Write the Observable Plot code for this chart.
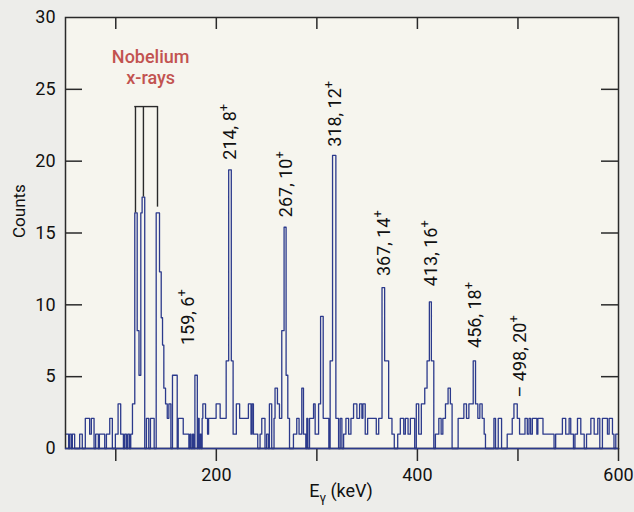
<!DOCTYPE html>
<html><head><meta charset="utf-8">
<script src="https://cdn.jsdelivr.net/npm/d3@7"></script>
<script src="https://cdn.jsdelivr.net/npm/@observablehq/plot@0.6"></script>
<style>
html,body{margin:0;padding:0;background:#ededea;}
#chart svg{display:block;}
</style></head><body><div id="chart"></div>
<script>
// Histogram: start energy of each step (keV) and the counts level from that energy on
const binStart = [50.0,53.1,54.1,55.8,56.8,59.1,64.1,66.7,69.7,74.0,75.7,78.4,80.0,82.7,83.7,89.0,90.7,94.0,96.6,99.6,
  102.3,104.9,107.6,108.9,110.6,111.9,113.6,114.9,116.6,118.9,121.3,123.1,124.9,126.2,128.8,130.5,132.8,134.5,138.2,140.2,
  143.5,145.2,146.5,147.8,149.5,151.2,152.8,154.8,156.4,161.1,162.1,167.1,172.7,173.9,174.9,176.4,177.4,178.7,181.1,181.9,
  182.9,183.9,184.9,185.9,186.6,189.3,191.3,192.3,199.8,203.8,209.8,212.3,214.9,216.7,219.9,223.2,231.9,234.5,235.5,236.9,
  241.2,243.5,245.2,248.4,250.0,251.8,252.8,255.1,257.4,258.4,260.8,262.8,265.1,267.4,269.4,271.1,272.8,276.7,280.0,282.3,
  285.0,286.7,289.0,290.0,291.0,292.7,296.7,298.3,301.7,303.7,306.3,311.9,313.2,315.6,318.9,321.6,323.2,324.9,326.6,328.9,
  331.6,333.9,336.5,339.8,342.5,344.8,345.8,348.1,350.5,359.1,361.5,364.8,367.4,371.4,374.7,377.0,380.4,383.0,386.4,388.0,
  390.7,393.0,397.3,398.9,401.3,403.9,407.3,409.6,411.9,413.9,416.3,417.9,421.3,423.6,425.3,427.9,430.5,432.8,434.5,440.5,
  446.2,448.8,451.2,455.5,457.8,460.1,462.1,464.4,466.4,467.7,476.1,477.7,480.4,483.7,489.3,494.3,496.0,499.3,501.6,507.0,
  509.3,511.0,512.6,514.3,518.8,519.8,521.6,524.9,535.9,537.5,544.2,547.5,550.9,552.5,555.2,556.7,559.2,562.5,565.9,568.2,
  572.5,575.8,579.4,581.4,584.0,589.0,590.7,594.0,595.5,597.3];
const binCount = [1,0,1,0,1,0,1,0,2.1,1,2.1,0,1,0,1,0,1,2.1,0,1,
  3.1,1,0,1,0,1,0,1,3.1,16.4,8.2,5.1,16.4,17.5,0,2.1,0,2.1,0,16.4,
  12.3,9.1,7.2,4.2,3.1,2.1,3.1,0,5.1,0,2.1,1,0,1,0,1,0,5.1,0,2.1,
  0,1,0,2.1,3.1,2.1,1,2.1,3.1,2.1,6.1,19.4,6.1,1,3.1,2.1,3.1,1,3.1,1,
  0,1,2.1,0,1,0,3.1,0,2.1,4.2,3.1,2.1,8.2,15.4,5.1,2.1,0,1,2.1,1,
  4.2,1,0,2.1,0,2.1,3.1,1,3.1,9.2,2.1,0,6.1,20.4,2.1,0,2.1,0,1,2.1,
  1,2.1,3.1,2.1,3.1,2.1,3.1,1,2.1,1,2.1,11.2,6.1,2.1,1,0,1,2.1,1,2.1,
  1,2.1,0,3.1,1,3.1,4.2,6.1,10.2,6.1,0,1,2.1,1,2.1,3.1,4.2,3.1,0,2.1,
  3.1,2.1,3.1,6.1,3.1,2.1,3.1,2.1,1,0,2.1,0,2.1,0,1,2.1,3.1,2.1,1,2.1,
  1,2.1,1,2.1,1,2.1,2.1,1,0,1,2.1,1,2.1,1,0,1,2.1,1,0,1,
  2.1,1,2.1,0,2.1,1,2.1,1,0,1];
const xMaxKeV = 600;

// Peak annotations
const peakText = ["159, 6+","214, 8+","267, 10+","318, 12+","367, 14+","413, 16+","456, 18+","\u2013 498, 20+"];
const peakTextX = [171.7, 213.4, 269.8, 318.6, 366.7, 413.3, 457.5, 502];
const peakTextY = [7.2, 20.1, 16.1, 21.0, 12.0, 11.3, 7.0, 3.55];

// Nobelium x-ray bracket
const noteLines = ["Nobelium", "x-rays"];
const noteX = 134.7;
const noteY = [27.2, 25.8];
const bracketX = [119.6, 127.5, 141.5];
const bracketBottom = [16.4, 17.5, 16.8];
const bracketTop = 23.8;

// Axes
const xTicks = [100, 200, 300, 400, 500, 600];
const xLabelled = [200, 400, 600];
const xTopTicks = [100, 200, 300, 400, 500];
const yTicks = [0, 5, 10, 15, 20, 25, 30];
const yInnerTicks = [5, 10, 15, 20, 25];
const yTitle = "Counts";
const xTitle = "E\u03b3 (keV)";

const hist = binStart.map((e, i) => ({e, c: binCount[i]}));
hist.push({e: xMaxKeV, c: binCount[binCount.length - 1]});
const peaks = peakText.map((t, i) => ({t, x: peakTextX[i], y: peakTextY[i]}));
const notes = noteLines.map((t, i) => ({t, y: noteY[i]}));
const brackets = bracketX.map((x, i) => ({x, y2: bracketBottom[i]}));

const W = 634, H = 512, mL = 65, mR = 16, mT = 17, mB = 64;
const plotW = W - mL - mR, plotH = H - mT - mB;
const ink = "#2a2a2a", navy = "#2c3a8c";

const chart = Plot.plot({
  width: W, height: H,
  marginLeft: mL, marginRight: mR, marginTop: mT, marginBottom: mB,
  style: {background: "#ededea", fontFamily: "Roboto, sans-serif", fontSize: "18px", color: "#111", overflow: "visible"},
  x: {domain: [50, xMaxKeV]},
  y: {domain: [0, 30]},
  marks: [
    Plot.frame({fill: "#f6f5ee", stroke: null}),
    Plot.line(hist, {x: "e", y: "c", curve: "step-after", stroke: navy, strokeWidth: 1.3}),
    Plot.tickY(yInnerTicks, {y: d => d, insetRight: plotW - 17, stroke: ink, strokeWidth: 1.5}),
    Plot.tickY(yInnerTicks, {y: d => d, insetLeft: plotW - 17, stroke: ink, strokeWidth: 1.5}),
    Plot.tickX(xTopTicks, {x: d => d, insetBottom: plotH - 12, stroke: ink, strokeWidth: 1.5}),
    Plot.axisX({ticks: xTicks, tickSize: 13, tickPadding: 7, strokeWidth: 1.5, stroke: ink,
      tickFormat: d => xLabelled.includes(d) ? String(d) : "", label: null, fontSize: 18}),
    Plot.axisY({ticks: yTicks, tickSize: 0, tickPadding: 10, label: null, fontSize: 18}),
    Plot.frame({stroke: ink, strokeWidth: 1.5}),
    Plot.ruleY([0], {stroke: navy, strokeWidth: 1.6}),
    Plot.ruleX(brackets, {x: "x", y1: bracketTop, y2: "y2", stroke: ink, strokeWidth: 1.4}),
    Plot.ruleY([bracketTop], {x1: bracketX[0], x2: bracketX[2], stroke: ink, strokeWidth: 1.4, strokeLinecap: "square"}),
    Plot.text(notes, {x: noteX, y: "y", text: "t", fill: "#c25350", fontSize: 18, fontWeight: 500}),
    Plot.text(peaks, {x: "x", y: "y", text: "t", rotate: -90, textAnchor: "start", fontSize: 18, fill: "#111"}),
    Plot.text([yTitle], {frameAnchor: "left", dx: -46, dy: 5, rotate: -90, fontSize: 17, fill: "#111"}),
    Plot.text([xTitle], {frameAnchor: "bottom", dx: -1, dy: 48, fontSize: 18, fill: "#111"})
  ]
});
document.getElementById("chart").append(chart);

// superscript "+" and subscript gamma as real text
const NS = "http://www.w3.org/2000/svg";
chart.querySelectorAll("text").forEach(t => {
  const s = t.textContent;
  if (t.children.length === 0 && /\d\+$/.test(s)) {
    t.textContent = s.slice(0, -1);
    const sp = document.createElementNS(NS, "tspan");
    sp.setAttribute("dy", "-8");
    sp.setAttribute("font-size", "13");
    sp.textContent = "+";
    t.append(sp);
  } else if (s === xTitle) {
    t.textContent = "E";
    const g = document.createElementNS(NS, "tspan");
    g.setAttribute("dy", "5"); g.setAttribute("font-size", "13"); g.textContent = "\u03b3";
    const r = document.createElementNS(NS, "tspan");
    r.setAttribute("dy", "-5"); r.textContent = " (keV)";
    t.append(g, r);
  }
});
</script></body></html>
